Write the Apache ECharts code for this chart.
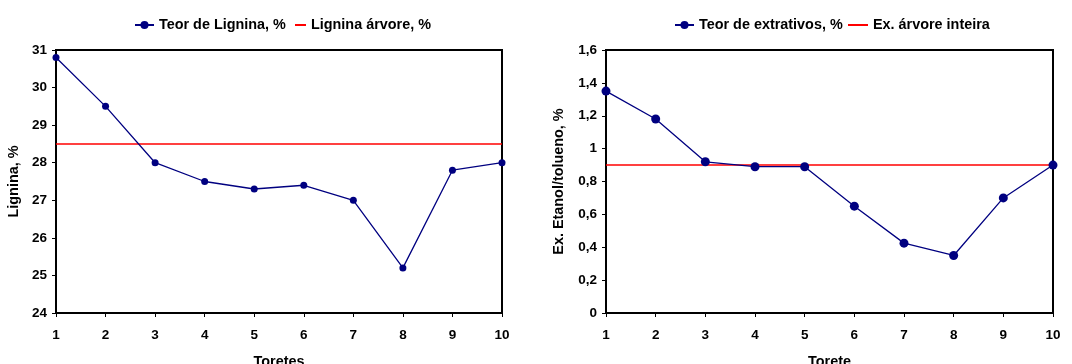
<!DOCTYPE html>
<html>
<head>
<meta charset="utf-8">
<script src="https://cdn.jsdelivr.net/npm/echarts@6/dist/echarts.min.js"></script>
<style>
  html, body { margin: 0; padding: 0; background: #fff; }
  #chart { width: 1072px; height: 364px; }
</style>
</head>
<body>
<div id="chart"></div>
<script>
// Toretes (log sections) 1..10
const toretes = [1, 2, 3, 4, 5, 6, 7, 8, 9, 10];

// Lignin content per torete, %
const ligninaTeor = [30.8, 29.5, 28.0, 27.5, 27.3, 27.4, 27.0, 25.2, 27.8, 28.0];
// Whole-tree lignin reference, %
const ligninaArvore = 28.5;

// Ethanol/toluene extractives per torete, %
const extrativosTeor = [1.35, 1.18, 0.92, 0.89, 0.89, 0.65, 0.425, 0.35, 0.70, 0.90];
// Whole-tree extractives reference, %
const extrativosArvore = 0.9;

// Axis extents
const xRange = [1, 10];
const ligninaRange = [24, 31];
const extrativosRange = [0, 1.6];

const FONT = '"Liberation Sans", Arial, sans-serif';
const NAVY = '#000080';
const RED = '#ff0000';

const txt = { fontFamily: FONT, fontWeight: 'bold', fontSize: 14.4, color: '#000' };
const tickTxt = { fontFamily: FONT, fontWeight: 'bold', fontSize: 13.5, color: '#000' };

function pairs(xs, ys) { return xs.map((x, i) => [x, ys[i]]); }
function flat(y) { return [[xRange[0], y], [xRange[1], y]]; }

function xAxisCfg(gridIndex, name) {
  return {
    gridIndex, type: 'value', min: xRange[0], max: xRange[1], interval: 1,
    name, nameLocation: 'middle', nameGap: 42,
    nameTextStyle: txt,
    axisLine: { show: true, lineStyle: { color: '#000', width: 2 } },
    axisTick: { show: true, length: 4, lineStyle: { color: '#000', width: 1 } },
    axisLabel: Object.assign({ margin: 15 }, tickTxt),
    splitLine: { show: false }
  };
}

function yAxisCfg(gridIndex, range, interval, name, gap, fmt) {
  return {
    gridIndex, type: 'value', min: range[0], max: range[1], interval,
    name, nameLocation: 'middle', nameGap: gap,
    nameTextStyle: txt,
    axisLine: { show: true, lineStyle: { color: '#000', width: 2 } },
    axisTick: { show: true, length: 4, lineStyle: { color: '#000', width: 1 } },
    axisLabel: Object.assign({ margin: 9, formatter: fmt }, tickTxt),
    splitLine: { show: false }
  };
}

const commaFmt = v => (Math.round(v * 10) / 10).toString().replace('.', ',');

// one legend entry per component so each icon can have its own length
function legendEntry(name, left, width, isLine) {
  const cfg = {
    data: [name], left, top: 18, padding: 0, textStyle: txt,
    itemWidth: width, itemHeight: 10, itemGap: 0
  };
  if (isLine) cfg.itemStyle = { opacity: 0 };
  return cfg;
}

const gridBase = {
  top: 50, bottom: 51, show: true, borderColor: '#000', borderWidth: 2,
  backgroundColor: 'transparent', containLabel: false, outerBoundsMode: 'none'
};

const chart = echarts.init(document.getElementById('chart'), null, { renderer: 'canvas' });
chart.setOption({
  animation: false,
  backgroundColor: '#fff',
  textStyle: { fontFamily: FONT },
  legend: [
    legendEntry('Teor de Lignina, %', 134, 19, false),
    legendEntry('Lignina árvore, %', 294, 11, true),
    legendEntry('Teor de extrativos, %', 674, 19, false),
    legendEntry('Ex. árvore inteira', 847, 20, true)
  ],
  grid: [
    Object.assign({ left: 56, right: 570 }, gridBase),
    Object.assign({ left: 606, right: 19 }, gridBase)
  ],
  xAxis: [
    xAxisCfg(0, 'Toretes'),
    xAxisCfg(1, 'Torete')
  ],
  yAxis: [
    yAxisCfg(0, ligninaRange, 1, 'Lignina, %', 35, v => String(v)),
    yAxisCfg(1, extrativosRange, 0.2, 'Ex. Etanol/tolueno, %', 40, commaFmt)
  ],
  series: [
    {
      name: 'Lignina árvore, %', type: 'line', xAxisIndex: 0, yAxisIndex: 0,
      data: flat(ligninaArvore), symbol: 'none',
      lineStyle: { color: RED, width: 1.5 }, itemStyle: { color: RED }
    },
    {
      name: 'Teor de Lignina, %', type: 'line', xAxisIndex: 0, yAxisIndex: 0,
      data: pairs(toretes, ligninaTeor), symbol: 'circle', symbolSize: 7,
      lineStyle: { color: NAVY, width: 1.3 }, itemStyle: { color: NAVY }
    },
    {
      name: 'Ex. árvore inteira', type: 'line', xAxisIndex: 1, yAxisIndex: 1,
      data: flat(extrativosArvore), symbol: 'none',
      lineStyle: { color: RED, width: 1.5 }, itemStyle: { color: RED }
    },
    {
      name: 'Teor de extrativos, %', type: 'line', xAxisIndex: 1, yAxisIndex: 1,
      data: pairs(toretes, extrativosTeor), symbol: 'circle', symbolSize: 9,
      lineStyle: { color: NAVY, width: 1.3 }, itemStyle: { color: NAVY }
    }
  ]
});
</script>
</body>
</html>
